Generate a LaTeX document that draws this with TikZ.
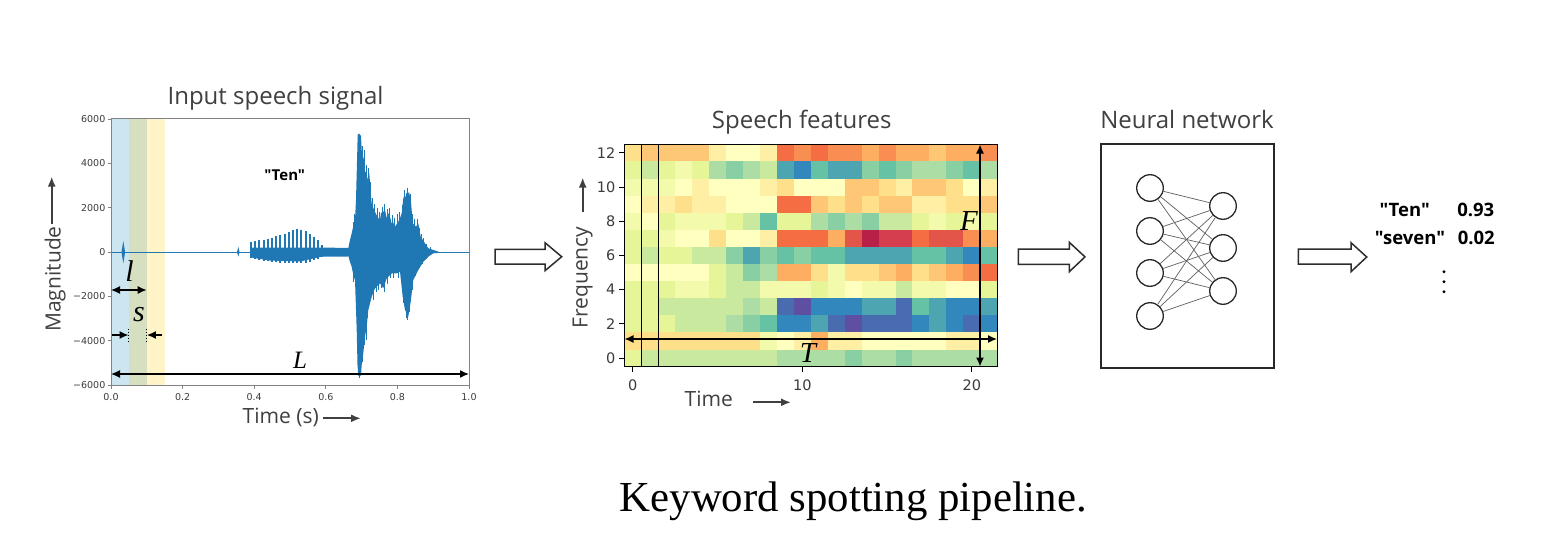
\documentclass[tikz,border=0pt]{standalone}
\usepackage{fontspec}
\setmainfont{Liberation Serif}
\newfontfamily\osans{Open Sans}
\newfontfamily\dvs{DejaVu Sans}
\usetikzlibrary{arrows.meta}

\definecolor{matblue}{RGB}{31,119,180}
\definecolor{titlegray}{RGB}{64,64,64}
\definecolor{tickgray}{RGB}{60,60,60}
\definecolor{framegray}{RGB}{130,130,130}
\definecolor{arrowgray}{RGB}{45,45,45}
\definecolor{nngray}{RGB}{40,40,40}
\definecolor{syngray}{RGB}{95,95,95}
\definecolor{bandA}{RGB}{203,230,240}
\definecolor{bandB}{RGB}{214,224,192}
\definecolor{bandC}{RGB}{255,243,200}
% Spectral colormap, half steps sp0..sp20
\definecolor{sp0}{RGB}{158,1,66}
\definecolor{sp2}{RGB}{213,62,79}
\definecolor{sp4}{RGB}{244,109,67}
\definecolor{sp6}{RGB}{253,174,97}
\definecolor{sp8}{RGB}{254,224,139}
\definecolor{sp10}{RGB}{255,255,191}
\definecolor{sp12}{RGB}{230,245,152}
\definecolor{sp14}{RGB}{171,221,164}
\definecolor{sp16}{RGB}{102,194,165}
\definecolor{sp18}{RGB}{50,136,189}
\definecolor{sp20}{RGB}{94,79,162}
\colorlet{sp1}{sp0!50!sp2}
\colorlet{sp3}{sp2!50!sp4}
\colorlet{sp5}{sp4!50!sp6}
\colorlet{sp7}{sp6!50!sp8}
\colorlet{sp9}{sp8!50!sp10}
\colorlet{sp11}{sp10!50!sp12}
\colorlet{sp13}{sp12!50!sp14}
\colorlet{sp15}{sp14!50!sp16}
\colorlet{sp17}{sp16!50!sp18}
\colorlet{sp19}{sp18!50!sp20}

\tikzset{
  ttl/.style={font=\osans\fontsize{24}{24}\selectfont, text=titlegray, inner sep=0pt, anchor=base},
  axl/.style={font=\osans\fontsize{21}{21}\selectfont, text=titlegray, inner sep=0pt, anchor=base},
  wtick/.style={font=\dvs\fontsize{9.5}{9.5}\selectfont, text=tickgray, inner sep=0pt},
  stick/.style={font=\dvs\fontsize{14.5}{14.5}\selectfont, text=tickgray, inner sep=0pt},
  dimar/.style={line width=1.4pt, {Latex[length=9pt,width=8pt]}-{Latex[length=9pt,width=8pt]}},
  onear/.style={line width=1.4pt, -{Latex[length=9pt,width=8pt]}},
  axar/.style={line width=2pt, color=titlegray, -{Latex[length=10pt,width=8pt]}},
  varlbl/.style={font=\itshape\fontsize{#1}{#1}\selectfont, inner sep=0pt},
  blockarrow/.style={draw=arrowgray, line width=1.5pt, fill=white, line join=miter},
  neuron/.style={circle, draw=nngray, line width=1.3pt, minimum size=26.6pt, inner sep=0pt},
  syn/.style={draw=syngray, line width=0.7pt},
  outtxt/.style={font=\osans\bfseries\fontsize{18.5}{18.5}\selectfont, inner sep=0pt, anchor=base},
  wspike/.style={draw=matblue, line width=1pt},
}

\begin{document}
\begin{tikzpicture}[x=1pt,y=-1pt]
\useasboundingbox (0,0) rectangle (1568,559);
\fill[white] (0,0) rectangle (1568,559);

% ================= Waveform panel =================
\fill[bandA] (111,119) rectangle (128.5,385.3);
\fill[bandB] (128.5,119) rectangle (146.7,385.3);
\fill[bandC] (146.7,119) rectangle (164.5,385.3);

% waveform
\draw[matblue, line width=1.3pt] (111,252.2) -- (469,252.2);
\fill[matblue] (121.5,252.2) -- (123.3,241) -- (125.1,252.2) -- (123.3,263.3) -- cycle;
\fill[matblue] (237,252.2) -- (238.3,246.7) -- (239.6,252.2) -- (238.3,256.5) -- cycle;
\fill[matblue] (250,252.2) -- (251,247.5) -- (322,247.5) -- (324,252.2) -- (322,256.5)
  -- (300,261.5) -- (270,260.5) -- (251,257.5) -- cycle;
\foreach \x/\t/\b in {251/241.5/258, 255.2/241/259, 259.4/240/260, 263.6/239.5/260.5,
  267.8/238.5/261, 272/237.5/261.5, 276.2/236/262, 280.4/235/262.5, 284.6/233.5/263,
  288.8/232/263.3, 293/230/263.3, 297.2/228.5/263.3, 301.4/229.5/263, 305.6/231/262.5,
  309.8/233.5/261.5, 314/236.5/260, 318.2/240/258.5, 322.4/245/256.5}
  \draw[matblue, line width=2.1pt] (\x,\t) -- (\x,\b);
\fill[matblue] (322,247.5) -- (348,248) -- (348,256.5) -- (322,256.5) -- cycle;
\fill[matblue] (346,250.5) -- (348.3,248) -- (350,240) -- (351.7,233.3) -- (353.3,226)
  -- (355,220) -- (356,200) -- (357.3,150) -- (357.7,135) -- (359,133.5) -- (361,136)
  -- (361.7,150) -- (363.3,160) -- (364,156) -- (365,171.7) -- (366.7,172) -- (367.5,180)
  -- (369.3,173) -- (370.5,190) -- (371.7,203.3) -- (373.3,208) -- (375,211.7) -- (376.5,215)
  -- (378,218) -- (380,220) -- (381,213) -- (383.3,211.7) -- (385,210) -- (386.7,218.3)
  -- (388,213) -- (390,216.7) -- (391.7,223.3) -- (393,222) -- (395,226.7) -- (398.3,221.7)
  -- (400,218) -- (401.7,213.3) -- (403.3,198.3) -- (405,195) -- (406.7,200) -- (408,194)
  -- (409,191.7) -- (411,201.7) -- (412.7,223.3) -- (416,226.7) -- (418.3,223.3)
  -- (420.7,236.7) -- (425,243.3) -- (428.3,248.3) -- (433.3,250) -- (438,251.5)
  -- (438,253) -- (433.3,253.3) -- (428.3,256.7) -- (423.3,261.7) -- (418.3,270)
  -- (413.3,280) -- (410.7,301.7) -- (408.3,316.7) -- (406,312) -- (405,310)
  -- (402.7,296.7) -- (400,271.7) -- (396.7,273.3) -- (391.7,273.3) -- (386.7,278.3)
  -- (383.3,288.3) -- (380,283.3) -- (375,288.3) -- (371.7,296.7) -- (368.3,310)
  -- (366.7,326.7) -- (365,336.7) -- (363.3,353.3) -- (361.7,365) -- (361,375.5)
  -- (358.3,376) -- (357.5,365) -- (356.7,330) -- (355,280) -- (353.3,275) -- (351.7,266.7)
  -- (350,262) -- (348.3,256) -- (346,254) -- cycle;
% ragged spikes of the burst
\foreach \x/\t in {353/222, 354.5/214, 362.5/146, 364.5/150, 366/165, 368/168, 370/182,
  372.5/198, 374/204, 377/208, 379/212, 382/207, 384.5/204, 387.5/209, 389/208, 392.5/215,
  394/218, 397/214, 399/212, 402/205, 404/190, 406/193, 407.5/188, 410/194, 412/214,
  414/219, 417/219, 419/228, 421/234, 423/238, 426/244, 430/247}
  \draw[wspike] (\x,252.2) -- (\x,\t);
\foreach \x/\b in {353/282, 356/300, 359.8/378, 362.5/362, 364/345, 366/340, 367.5/318,
  369.5/304, 373/300, 376/292, 378/290, 381/288, 384/292, 387/284, 390/278, 393/278,
  398/278, 401/280, 403.5/303, 406/318, 407.5/320, 409.5/312, 412/290, 415/276, 419/268,
  422/264, 426/259}
  \draw[wspike] (\x,252.2) -- (\x,\b);

% frame and ticks
\draw[framegray, line width=1pt] (111,119) rectangle (469,385.3);
\foreach \v [count=\k from 0] in {6000,4000,2000,0,−2000,−4000,−6000} {
  \draw[framegray, line width=0.9pt] (107.5,{119+\k*44.38}) -- (111,{119+\k*44.38});
  \node[wtick, anchor=east] (wy\k) at (105.5,{119+\k*44.38}) {\v};
}
\foreach \v [count=\k from 0] in {0.0,0.2,0.4,0.6,0.8,1.0} {
  \draw[framegray, line width=0.9pt] ({111+\k*71.6},385.3) -- ({111+\k*71.6},389);
  \node[wtick] (wx\k) at ({111+\k*71.6},396.7) {\v};
}

% dimension arrows
\coordinate (lA) at (111,290);
\coordinate (lB) at (146.7,290);
\draw[dimar] (lA) -- (lB);
\node[varlbl=30] (lLbl) at (129.5,271) {l};
\coordinate (sA) at (112,335);
\coordinate (sB) at (128.5,335);
\coordinate (sC) at (162,335);
\coordinate (sD) at (146.9,335);
\draw[onear] (sA) -- (sB);
\draw[onear] (sC) -- (sD);
\draw[line width=0.9pt, dotted] (128.7,329) -- (128.7,342.5);
\draw[line width=0.9pt, dotted] (146.7,329) -- (146.7,342.5);
\node[varlbl=30] (sLbl) at (139,315) {s};
\coordinate (LA) at (111,374);
\coordinate (LB) at (469,374);
\draw[dimar] (LA) -- (LB);
\node[varlbl=25] (LLbl) at (300,360) {L};

% labels
\node[ttl] (t1) at (275.5,105) {Input speech signal};
\node[axl, rotate=90] (mag) at (60.7,279) {Magnitude};
\coordinate (magA) at (51.7,224);
\coordinate (magB) at (51.7,176.5);
\draw[axar] (magA) -- (magB);
\node[axl] (time1) at (280.8,423.3) {Time (s)};
\coordinate (tA) at (323,418.3);
\coordinate (tB) at (361,418.3);
\draw[axar] (tA) -- (tB);
\node[font=\osans\bfseries\fontsize{15}{15}\selectfont, inner sep=0pt] (ten1) at (284.7,175) {"Ten"};

% ================= Spectrogram panel =================
\foreach \vals [count=\i from 0] in {
 {8,7,7,7,7,9,10,10,9,4,5,4,5,5,6,5,6,6,7,6,6,5},
 {12,13,12,11,12,14,15,14,13,17,18,16,17,17,15,16,15,14,14,15,16,14},
 {11,11,11,10,9,10,10,10,9,8,10,10,10,7,7,8,9,7,7,8,10,9},
 {10,9,9,8,9,9,10,10,10,4,4,7,8,7,8,7,7,9,9,8,8,7},
 {11,10,12,11,11,11,12,13,16,12,12,14,15,14,15,13,13,12,11,12,11,12},
 {12,12,11,10,10,8,10,10,9,4,4,4,6,3,1,2,2,4,3,3,5,6},
 {12,13,12,12,13,13,15,17,15,16,15,16,16,17,17,17,17,16,16,17,18,16},
 {10,10,10,10,10,12,13,15,14,6,6,8,11,8,8,7,6,8,7,6,5,4},
 {12,12,12,11,11,12,13,13,11,11,11,12,11,10,11,11,13,11,11,10,10,12},
 {12,12,13,13,13,13,13,14,13,19,20,18,18,18,17,17,19,16,17,18,18,17},
 {12,12,12,13,13,13,14,15,16,18,18,17,19,20,19,19,19,18,17,18,19,18},
 {8,8,8,8,8,8,8,8,11,10,9,6,9,9,10,10,10,10,10,9,9,10},
 {12,13,13,13,13,13,13,13,13,14,14,14,14,15,14,14,15,14,14,14,14,14}} {
  \foreach \v [count=\cc from 0] in \vals {
    \fill[sp\v] ({624.3+\cc*16.95},{144.3+\i*17.1}) rectangle ++(17.3,17.4);
  }
}
\draw[black, line width=1pt] (624.3,144.3) rectangle (997.2,366.6);
\draw[black, line width=1pt] (624.3,144.3) rectangle (641.3,366.6);
\draw[black, line width=1pt] (641.3,144.3) rectangle (658.3,366.6);

\foreach \r in {0,2,...,12} {
  \draw[black, line width=0.9pt] (619,{144.3+(12.5-\r)*17.1}) -- (624.3,{144.3+(12.5-\r)*17.1});
  \node[stick, anchor=east] (fy\r) at (615.5,{144.3+(12.5-\r)*17.1}) {\r};
}
\foreach \cc in {0,10,20} {
  \draw[black, line width=0.9pt] ({624.3+(\cc+0.5)*16.95},366.6) -- ({624.3+(\cc+0.5)*16.95},371.5);
  \node[stick] (fx\cc) at ({624.3+(\cc+0.5)*16.95},385) {\cc};
}

\coordinate (TA) at (624.5,339);
\coordinate (TB) at (997,339);
\draw[dimar] (TA) -- (TB);
\node[varlbl=29] (TLbl) at (808,353) {T};
\coordinate (FA) at (980,144.5);
\coordinate (FB) at (980,366.5);
\draw[dimar] (FA) -- (FB);
\node[varlbl=29] (FLbl) at (969,221) {F};

\node[ttl] (t2) at (801.7,128.3) {Speech features};
\node[axl, rotate=90] (freq) at (587.5,277.5) {Frequency};
\coordinate (fqA) at (582.7,212);
\coordinate (fqB) at (582.7,177.5);
\draw[axar] (fqA) -- (fqB);
\node[axl] (time2) at (708.8,406.7) {Time};
\coordinate (t2A) at (753.3,402.3);
\coordinate (t2B) at (791,402.3);
\draw[axar] (t2A) -- (t2B);

% ================= Block arrows =================
\draw[blockarrow] (495,249.3) -- (545,249.3) -- (545,242.7) -- (561.7,256.7) -- (545,270.7)
  -- (545,264) -- (495,264) -- cycle;
\draw[blockarrow] (1018.3,249) -- (1069.3,249) -- (1069.3,242.3) -- (1085,256.9) -- (1069.3,271.7)
  -- (1069.3,264.3) -- (1018.3,264.3) -- cycle;
\draw[blockarrow] (1298.3,249) -- (1351,249) -- (1351,242.7) -- (1366.7,257) -- (1351,271.7)
  -- (1351,264) -- (1298.3,264) -- cycle;

% ================= Neural network =================
\node[ttl] (t3) at (1187,128.3) {Neural network};
\draw[nngray, line width=1.5pt] (1101,144) rectangle (1274,368);
\node[neuron] (i1) at (1150,188) {};
\node[neuron] (i2) at (1150,231) {};
\node[neuron] (i3) at (1150,273) {};
\node[neuron] (i4) at (1150,316) {};
\node[neuron] (o1) at (1223,206) {};
\node[neuron] (o2) at (1223,248) {};
\node[neuron] (o3) at (1223,291) {};
\foreach \a in {i1,i2,i3,i4} {
  \foreach \b in {o1,o2,o3} {
    \draw[syn] (\a) -- (\b);
  }
}

% ================= Outputs =================
\node[outtxt] (oTen) at (1404.7,216.7) {"Ten"};
\node[outtxt] (pTen) at (1475.8,216.7) {0.93};
\node[outtxt] (oSeven) at (1410,244) {"seven"};
\node[outtxt] (pSeven) at (1476.3,244) {0.02};
\fill[black] (1444,271.7) circle (1.6);
\fill[black] (1444,281.7) circle (1.6);
\fill[black] (1444,291.7) circle (1.6);

% ================= Caption =================
\node[font=\fontsize{42.8}{44}\selectfont, inner sep=0pt, anchor=base] (cap) at (853.3,511.7)
  {Keyword spotting pipeline.};
\end{tikzpicture}
\end{document}
